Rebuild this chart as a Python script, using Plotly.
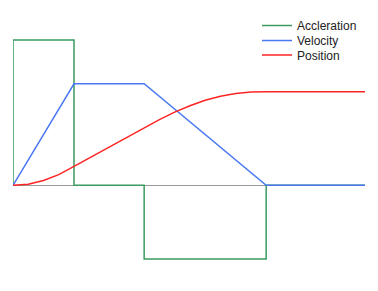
import plotly.graph_objects as go

# time axis (arbitrary units) and series values
accel_t = [0, 0, 1.0, 1.0, 2.15, 2.15, 4.15, 4.15, 5.77]
accel_v = [0, 146, 146, 0, 0, -74, -74, 0, 0]

vel_t = [0, 1.0, 2.15, 4.15, 5.77]
vel_v = [0, 102, 102, 0, 0]

pos_t = [0, 0.25, 0.5, 0.75, 1.0, 1.25, 1.5, 1.75, 2.0, 2.15, 2.4, 2.65, 2.9,
         3.15, 3.4, 3.65, 3.9, 4.15, 5.77]
pos_v = [0, 1.2, 4.8, 10.7, 19, 27.5, 36, 44.5, 53, 58, 66, 73.5, 80,
         85.5, 89.5, 92.3, 93.7, 94, 94]

names = ["Accleration", "Velocity", "Position"]
colors = ["#3a9a5f", "#4a78f2", "#ff2424"]
legend_ids = ["legend", "legend2", "legend3"]
legend_y = [1.1043, 1.0391, 0.9761]

fig = go.Figure()
for t, v, n, c, lg in zip([accel_t, vel_t, pos_t], [accel_v, vel_v, pos_v],
                          names, colors, legend_ids):
    fig.add_trace(go.Scatter(x=t, y=v, mode="lines", name=n, legend=lg,
                             line=dict(color=c, width=1.5)))

leg_common = dict(x=0.6932, xanchor="left", yanchor="top",
                  bgcolor="rgba(0,0,0,0)",
                  font=dict(family="Liberation Sans", size=12, color="#222222"))

fig.update_layout(
    width=378, height=291,
    margin=dict(l=13, r=13, t=35, b=26),
    paper_bgcolor="white", plot_bgcolor="white",
    font=dict(family="Liberation Sans", size=12, color="#222222"),
    showlegend=True,
    legend=dict(y=legend_y[0], **leg_common),
    legend2=dict(y=legend_y[1], **leg_common),
    legend3=dict(y=legend_y[2], **leg_common),
    xaxis=dict(range=[0, 5.77], showgrid=False, zeroline=False,
               showticklabels=False, showline=False, ticks=""),
    yaxis=dict(range=[-80, 150], showgrid=False, zeroline=True,
               zerolinecolor="#999999", zerolinewidth=1,
               showticklabels=False, showline=False, ticks=""),
)

fig.write_html("out.html")
